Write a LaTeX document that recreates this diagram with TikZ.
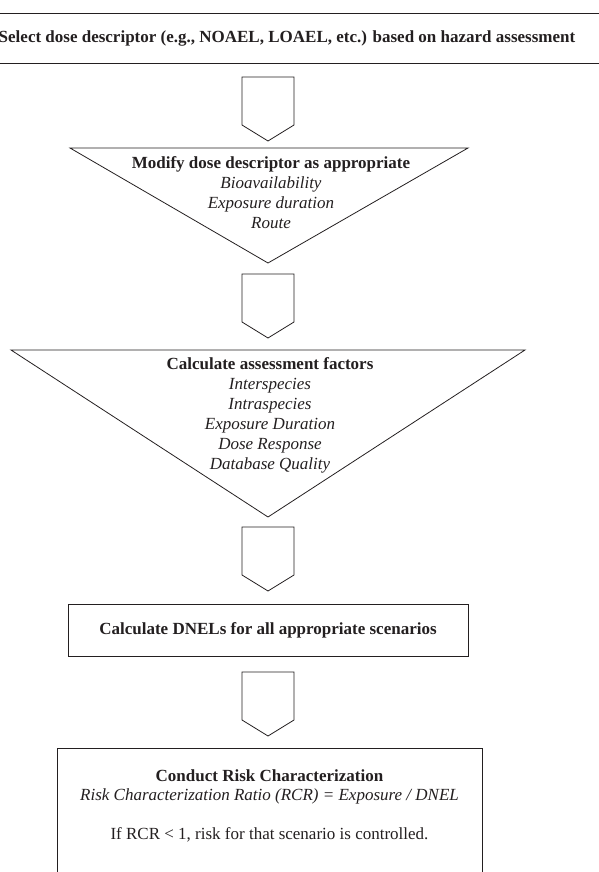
\documentclass[tikz,border=0pt]{standalone}
\usepackage{fontspec}
\setmainfont{Liberation Serif}
\definecolor{inkgray}{RGB}{35,31,32}
\begin{document}
\begin{tikzpicture}[x=1pt,y=-1pt,line width=0.8pt,
  txt/.style={text=inkgray,font=\fontsize{17}{20}\selectfont,align=center,inner sep=0pt},
  boxed/.style={txt,draw=inkgray,font=\fontsize{17}{20}\selectfont\bfseries}]
\useasboundingbox (0,0) rectangle (599,872);
\clip (0,0) rectangle (599,872);

% first step, box runs past both edges
\node[boxed,minimum width=640,minimum height=50] (select) at (287,38)
  {Select dose descriptor (e.g., NOAEL, LOAEL, etc.) based on hazard assessment};

% block arrows between the steps
\foreach \y in {77, 274, 527, 672}
  \draw[inkgray] (242,\y) -- (242,\y+48) -- (268,\y+64) -- (294,\y+48) -- (294,\y) -- cycle;

% funnel 1
\draw[inkgray] (70,148) -- (468,148) -- (268,263) -- cycle;
\node[txt] (modify) at (271,193)
  {\textbf{Modify dose descriptor as appropriate}\\
   \textit{Bioavailability}\\ \textit{Exposure duration}\\ \textit{Route}};

% funnel 2
\draw[inkgray] (11,350) -- (525,350) -- (268,517) -- cycle;
\node[txt] (factors) at (270,415)
  {\textbf{Calculate assessment factors}\\
   \textit{Interspecies}\\ \textit{Intraspecies}\\ \textit{Exposure Duration}\\
   \textit{Dose Response}\\ \textit{Database Quality}};

% DNEL step
\node[boxed,minimum width=400,minimum height=52] (dnel) at (268,630)
  {Calculate DNELs for all appropriate scenarios};

% risk characterization, box runs past the bottom edge
\draw[inkgray] (57,900) -- (57,748) -- (482,748) -- (482,900);
\node[txt,font=\fontsize{17}{19.3}\selectfont] (conduct) at (269.5,806)
  {\textbf{Conduct Risk Characterization}\\
   \textit{Risk Characterization Ratio (RCR) = Exposure / DNEL}\\[19.3pt]
   If RCR < 1, risk for that scenario is controlled.};

\end{tikzpicture}
\end{document}
